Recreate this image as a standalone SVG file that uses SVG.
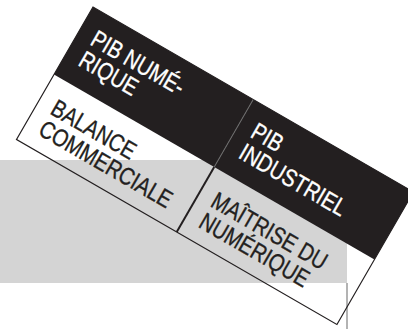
<svg xmlns="http://www.w3.org/2000/svg" width="408" height="329" viewBox="0 0 408 329">
<style>
.t{font-family:"Liberation Sans",Arial,sans-serif;font-size:24.5px;stroke-width:0.35px;}
.w{fill:#ffffff;stroke:#ffffff}
.d{fill:#231f20;stroke:#231f20}
.band{fill:#231f20}
.cell{fill:none}
</style>
<rect id="grey-band" x="0" y="160" width="347" height="123" fill="#d4d4d4"/>
<line x1="347" y1="283" x2="347" y2="329" stroke="#9a9a9a" stroke-width="1.5"/>
<g transform="translate(93,7) rotate(30)">
  <g id="pib-numerique">
    <rect class="band" x="0" y="0" width="185" height="78"/>
    <text class="t w" transform="translate(15,34) scale(0.82,1)">PIB NUMÉ-</text>
    <text class="t w" transform="translate(15,58) scale(0.82,1)">RIQUE</text>
  </g>
  <g id="pib-industriel">
    <rect class="band" x="185" y="0" width="185" height="78"/>
    <text class="t w" transform="translate(200,34) scale(0.82,1)">PIB</text>
    <text class="t w" transform="translate(200,58) scale(0.82,1)">INDUSTRIEL</text>
  </g>
  <g id="balance-commerciale">
    <rect class="cell" x="0" y="78" width="185" height="75"/>
    <text class="t d" transform="translate(15,114) scale(0.82,1)">BALANCE</text>
    <text class="t d" transform="translate(15,138) scale(0.82,1)">COMMERCIALE</text>
  </g>
  <g id="maitrise-numerique">
    <rect class="cell" x="185" y="78" width="185" height="75"/>
    <text class="t d" transform="translate(200,114) scale(0.82,1)">MAÎTRISE DU</text>
    <text class="t d" transform="translate(200,138) scale(0.82,1)">NUMÉRIQUE</text>
  </g>
  <g id="connectors">
    <rect x="0" y="0" width="370" height="153" fill="none" stroke="#231f20" stroke-width="1.2"/>
    <line x1="185" y1="0" x2="185" y2="78" stroke="#6b6b6b" stroke-width="1"/>
    <line x1="185" y1="78" x2="185" y2="153" stroke="#231f20" stroke-width="2"/>
  </g>
</g>
</svg>
